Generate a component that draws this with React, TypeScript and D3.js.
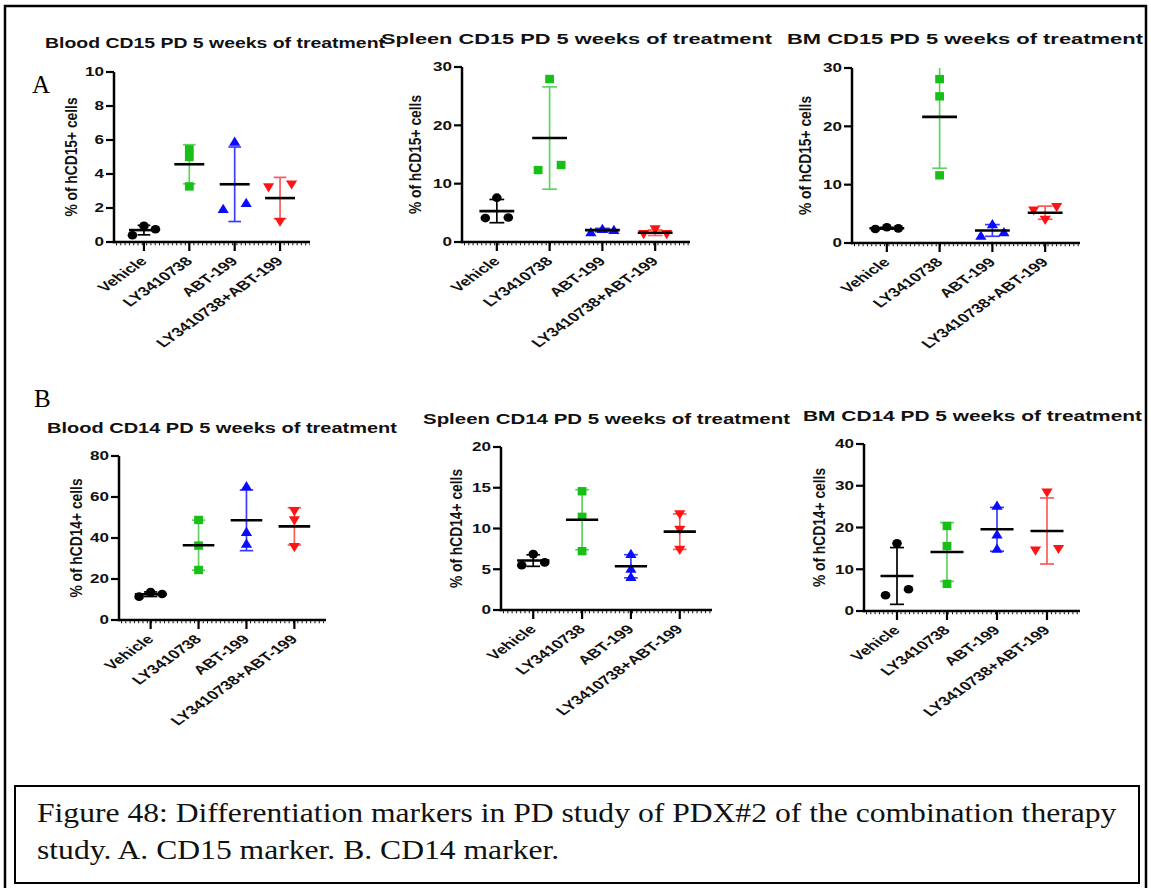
import React from "react";
import * as d3 from "d3";

// Treatment groups, 3 mice each
const groups = ["Vehicle", "LY3410738", "ABT-199", "LY3410738+ABT-199"];
const markerColors = ["#000000", "#17bf17", "#0b0bff", "#ff1414"];
const barColors = ["#000000", "#5fd35f", "#3d3dff", "#ff5a5a"];
const markerShapes = ["circle", "square", "triangle", "triangleDown"];

// % of hCD15+ cells
const bloodCD15 = [[0.4, 0.95, 0.75], [5.45, 5.0, 3.27], [5.92, 1.96, 2.31], [3.2, 3.37, 1.18]];
const spleenCD15 = [[4.1, 7.6, 4.2], [27.94, 12.33, 13.2], [1.72, 2.29, 2.12], [1.32, 2.12, 1.32]];
const bmCD15 = [[2.4, 2.69, 2.51], [28.1, 25.14, 11.6], [1.31, 3.26, 1.89], [5.54, 3.94, 6.11]];
// % of hCD14+ cells
const bloodCD14 = [[11.4, 13.6, 12.7], [48.8, 36.3, 24.4], [65.4, 43.1, 37.4], [53.0, 48.5, 35.5]];
const spleenCD14 = [[5.5, 6.86, 5.84], [14.57, 11.43, 7.22], [6.9, 5.1, 4.1], [11.7, 9.8, 7.35]];
const bmCD14 = [[3.77, 16.2, 5.21], [20.36, 15.55, 6.5], [25.3, 18.4, 15.0], [28.3, 14.4, 14.8]];

const ticksBloodCD15 = [0, 2, 4, 6, 8, 10];
const ticksSpleenCD15 = [0, 10, 20, 30];
const ticksBmCD15 = [0, 10, 20, 30];
const ticksBloodCD14 = [0, 20, 40, 60, 80];
const ticksSpleenCD14 = [0, 5, 10, 15, 20];
const ticksBmCD14 = [0, 10, 20, 30, 40];

const titles = [
  "Blood CD15 PD 5 weeks of treatment",
  "Spleen CD15 PD 5 weeks of treatment",
  "BM CD15 PD 5 weeks of treatment",
  "Blood CD14 PD 5 weeks of treatment",
  "Spleen CD14 PD 5 weeks of treatment",
  "BM CD14 PD 5 weeks of treatment",
];
const yLabelCD15 = "% of hCD15+ cells";
const yLabelCD14 = "% of hCD14+ cells";

const captionLines = [
  "Figure 48: Differentiation markers in PD study of PDX#2 of the combination therapy",
  "study. A. CD15 marker. B. CD14 marker.",
];

type Frame = { x0: number; x1: number; y0: number; y1: number; tx: number; ty: number; tw: number; gap: number };

// plot frames (axis box, title placement)
const frames: Frame[] = [
  { x0: 114, x1: 310, y0: 242, y1: 72, tx: 45, ty: 48, tw: 340, gap: 37 },
  { x0: 462, x1: 690, y0: 242, y1: 67, tx: 381, ty: 44, tw: 391, gap: 41 },
  { x0: 852, x1: 1080, y0: 243, y1: 68, tx: 787, ty: 44, tw: 356, gap: 41 },
  { x0: 119, x1: 326, y0: 620, y1: 456, tx: 47, ty: 433, tw: 350, gap: 37 },
  { x0: 501, x1: 712, y0: 610, y1: 447, tx: 423, ty: 424, tw: 367, gap: 39 },
  { x0: 864, x1: 1080, y0: 611, y1: 444, tx: 803, ty: 421, tw: 339, gap: 39 },
];

const panelData = [bloodCD15, spleenCD15, bmCD15, bloodCD14, spleenCD14, bmCD14];
const panelTicks = [ticksBloodCD15, ticksSpleenCD15, ticksBmCD15, ticksBloodCD14, ticksSpleenCD14, ticksBmCD14];
const panelYLabels = [yLabelCD15, yLabelCD15, yLabelCD15, yLabelCD14, yLabelCD14, yLabelCD14];

const SANS = "'Liberation Sans', Arial, Helvetica, sans-serif";
const SERIF = "'Liberation Serif', 'Times New Roman', Times, serif";

// Horizontal spread of overlapping points (scatter-dot style)
function spreadOffsets(vals: number[], y: (v: number) => number, step: number, thr: number) {
  const order = vals.map((_, i) => i).sort((a, b) => vals[a] - vals[b]);
  const clusters: number[][] = [];
  order.forEach((i) => {
    const last = clusters[clusters.length - 1];
    if (last && Math.abs(y(vals[last[last.length - 1]]) - y(vals[i])) < thr) last.push(i);
    else clusters.push([i]);
  });
  const off = vals.map(() => 0);
  clusters.forEach((c) => {
    const m = [...c].sort((a, b) => a - b);
    const n = m.length;
    m.forEach((i, k) => {
      off[i] = (k - (n - 1) / 2) * (n === 2 ? 2 : 1) * step;
    });
  });
  return off;
}

function Marker({ shape, x, y, color }: { shape: string; x: number; y: number; color: string }) {
  if (shape === "circle") return <ellipse cx={x} cy={y} rx={4.8} ry={4.3} fill={color} />;
  if (shape === "square") return <rect x={x - 4.4} y={y - 4.2} width={8.8} height={8.4} fill={color} />;
  if (shape === "triangle")
    return <path d={`M${x - 5.6},${y + 4.3} L${x + 5.6},${y + 4.3} L${x},${y - 4.9} Z`} fill={color} />;
  return <path d={`M${x - 5.6},${y - 4.3} L${x + 5.6},${y - 4.3} L${x},${y + 4.9} Z`} fill={color} />;
}

function Panel({ idx }: { idx: number }) {
  const f = frames[idx];
  const data = panelData[idx];
  const ticks = panelTicks[idx];
  const yMax = ticks[ticks.length - 1];
  const y = d3.scaleLinear().domain([0, yMax]).range([f.y0, f.y1]);
  const x = d3.scalePoint<string>().domain(groups).range([f.x0, f.x1]).padding(0.66);
  const step = x.step();
  const meanHalf = step * 0.33;
  const capHalf = step * 0.14;
  const yMid = (f.y0 + f.y1) / 2;

  return (
    <g>
      <text
        x={f.tx}
        y={f.ty}
        fontFamily={SANS}
        fontWeight="bold"
        fontSize={15}
        textLength={f.tw}
        lengthAdjust="spacingAndGlyphs"
        fill="#111"
      >
        {titles[idx]}
      </text>

      {/* y axis */}
      <line x1={f.x0} x2={f.x0} y1={f.y0 + 1.2} y2={f.y1} stroke="#000" strokeWidth={2.5} />
      {ticks.map((t) => (
        <g key={t}>
          <line x1={f.x0 - 8} x2={f.x0} y1={y(t)} y2={y(t)} stroke="#000" strokeWidth={2.2} />
          <text
            transform={`translate(${f.x0 - 10},${y(t) + 4.3}) scale(1.4,1)`}
            textAnchor="end"
            fontFamily={SANS}
            fontWeight="bold"
            fontSize={12.2}
            fill="#111"
          >
            {t}
          </text>
        </g>
      ))}
      <text
        transform={`translate(${f.x0 - f.gap},${yMid}) scale(1.25,1) rotate(-90)`}
        textAnchor="middle"
        fontFamily={SANS}
        fontWeight="bold"
        fontSize={13.8}
        fill="#111"
      >
        {panelYLabels[idx]}
      </text>

      {/* x axis with minor ticks */}
      <line x1={f.x0 - 1.2} x2={f.x1} y1={f.y0} y2={f.y0} stroke="#000" strokeWidth={2.5} />
      <line
        x1={f.x0 + 2}
        x2={f.x1}
        y1={f.y0 + 2.2}
        y2={f.y0 + 2.2}
        stroke="#000"
        strokeWidth={2}
        strokeDasharray="1 3.3"
      />
      {groups.map((g) => (
        <g key={g}>
          <line x1={x(g)} x2={x(g)} y1={f.y0} y2={f.y0 + 9} stroke="#000" strokeWidth={2.2} />
          <text
            transform={`translate(${(x(g) as number) + 4},${f.y0 + 20}) scale(1.4,1) rotate(-45)`}
            textAnchor="end"
            fontFamily={SANS}
            fontWeight="bold"
            fontSize={12.6}
            fill="#111"
          >
            {g}
          </text>
        </g>
      ))}

      {/* groups: mean ± SD and individual mice */}
      {data.map((vals, gi) => {
        const cx = x(groups[gi]) as number;
        const m = d3.mean(vals) as number;
        const sd = d3.deviation(vals) as number;
        const hi = Math.min(m + sd, yMax);
        const lo = Math.max(m - sd, 0);
        const offs = spreadOffsets(vals, y, 11.5, 7.2);
        return (
          <g key={gi}>
            <line x1={cx} x2={cx} y1={y(lo)} y2={y(hi)} stroke={barColors[gi]} strokeWidth={1.7} />
            {m + sd <= yMax && (
              <line x1={cx - capHalf} x2={cx + capHalf} y1={y(hi)} y2={y(hi)} stroke={barColors[gi]} strokeWidth={1.7} />
            )}
            <line x1={cx - capHalf} x2={cx + capHalf} y1={y(lo)} y2={y(lo)} stroke={barColors[gi]} strokeWidth={1.7} />
            {vals.map((v, i) => (
              <Marker key={i} shape={markerShapes[gi]} x={cx + offs[i]} y={y(v)} color={markerColors[gi]} />
            ))}
            <line x1={cx - meanHalf} x2={cx + meanHalf} y1={y(m)} y2={y(m)} stroke="#000" strokeWidth={2.6} />
          </g>
        );
      })}
    </g>
  );
}

export default function App() {
  return (
    <svg
      width={1151}
      height={888}
      viewBox="0 0 1151 888"
      style={{ position: "absolute", left: 0, top: 0, display: "block", background: "#fff" }}
    >
      <rect x={0} y={0} width={1151} height={888} fill="#fff" />
      {/* outer frame */}
      <path d="M5,892 L5,6 L1146,6 L1146,892" fill="none" stroke="#000" strokeWidth={2.5} />

      <text x={32} y={93} fontFamily={SERIF} fontSize={25} fill="#000">A</text>
      <text x={34} y={407} fontFamily={SERIF} fontSize={25} fill="#000">B</text>

      {frames.map((_, i) => (
        <Panel key={i} idx={i} />
      ))}

      {/* caption box */}
      <rect x={15} y={786} width={1124} height={97} fill="none" stroke="#000" strokeWidth={2} />
      {captionLines.map((line, i) => (
        <text
          key={i}
          transform={`translate(37,${822 + i * 37}) scale(1.15,1)`}
          fontFamily={SERIF}
          fontSize={27.5}
          fill="#111"
        >
          {line}
        </text>
      ))}
    </svg>
  );
}
